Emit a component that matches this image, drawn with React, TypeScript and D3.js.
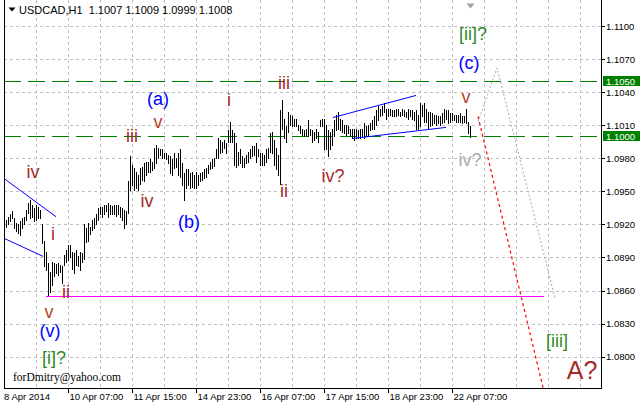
import React from 'react';
import * as d3 from 'd3';

// ---- data ----
const SYMBOL = 'USDCAD,H1';
const LAST_OHLC = ['1.1007', '1.1009', '1.0999', '1.1008'];

const HIGHS = [
  1.0924, 1.0927, 1.0929, 1.0932, 1.0926, 1.0921, 1.0920, 1.0923, 1.0926, 1.0927,
  1.0933, 1.0939, 1.0942, 1.0938, 1.0935, 1.0938, 1.0936, 1.0933, 1.0920, 1.0905,
  1.0895, 1.0885, 1.0877, 1.0886, 1.0885, 1.0884, 1.0885, 1.0883, 1.0882, 1.0892,
  1.0897, 1.0901, 1.0901, 1.0895, 1.0894, 1.0897, 1.0891, 1.0895, 1.0894, 1.0920,
  1.0917, 1.0921, 1.0918, 1.0924, 1.0926, 1.0929, 1.0935, 1.0936, 1.0936, 1.0938,
  1.0938, 1.0939, 1.0938, 1.0937, 1.0938, 1.0938, 1.0938, 1.0936, 1.0935, 1.0933,
  1.0932, 1.0959, 1.0982, 1.0974, 1.0971, 1.0968, 1.0965, 1.0971, 1.0972, 1.0976,
  1.0977, 1.0977, 1.0979, 1.0977, 1.0989, 1.0992, 1.0989, 1.0988, 1.0988, 1.0985,
  1.0985, 1.0983, 1.0982, 1.0979, 1.0985, 1.0980, 1.0985, 1.0988, 1.0976, 1.0967,
  1.0970, 1.0970, 1.0967, 1.0968, 1.0965, 1.0968, 1.0965, 1.0967, 1.0968, 1.0970,
  1.0971, 1.0974, 1.0977, 1.0979, 1.0980, 1.0988, 1.0998, 1.0997, 1.0995, 1.0997,
  1.0994, 1.1006, 1.1013, 1.1006, 1.1003, 1.0994, 1.0986, 1.0988, 1.0982, 1.0980,
  1.0983, 1.0986, 1.0988, 1.0991, 1.0991, 1.0994, 1.0988, 1.0985, 1.0985, 1.0983,
  1.0988, 1.0989, 1.1003, 1.1004, 1.0997, 1.0989, 1.0983, 1.1024, 1.1033, 1.1016,
  1.1009, 1.1022, 1.1019, 1.1018, 1.1016, 1.1016, 1.1010, 1.1009, 1.1007, 1.1006,
  1.1007, 1.1015, 1.1007, 1.1006, 1.1004, 1.1007, 1.1004, 1.1015, 1.1016, 1.1016,
  1.1010, 1.1006, 1.1004, 1.1007, 1.1015, 1.1019, 1.1022, 1.1016, 1.1015, 1.1010,
  1.1010, 1.1009, 1.1007, 1.1007, 1.1007, 1.1007, 1.1006, 1.1007, 1.1007, 1.1012,
  1.1009, 1.1010, 1.1012, 1.1015, 1.1018, 1.1024, 1.1027, 1.1025, 1.1027, 1.1030,
  1.1025, 1.1025, 1.1025, 1.1024, 1.1024, 1.1025, 1.1025, 1.1022, 1.1025, 1.1024,
  1.1022, 1.1025, 1.1024, 1.1024, 1.1022, 1.1024, 1.1019, 1.1030, 1.1028, 1.1030,
  1.1025, 1.1022, 1.1022, 1.1021, 1.1019, 1.1019, 1.1018, 1.1018, 1.1021, 1.1025,
  1.1024, 1.1024, 1.1021, 1.1021, 1.1019, 1.1019, 1.1019, 1.1021, 1.1018, 1.1018,
  1.1025, 1.1013, 1.1009,
];

const LOWS = [
  1.0918, 1.0920, 1.0923, 1.0926, 1.0917, 1.0914, 1.0912, 1.0910, 1.0917, 1.0920,
  1.0924, 1.0930, 1.0926, 1.0927, 1.0923, 1.0924, 1.0926, 1.0926, 1.0903, 1.0882,
  1.0879, 1.0856, 1.0859, 1.0865, 1.0873, 1.0876, 1.0874, 1.0877, 1.0867, 1.0883,
  1.0886, 1.0888, 1.0890, 1.0880, 1.0876, 1.0883, 1.0882, 1.0879, 1.0886, 1.0889,
  1.0904, 1.0905, 1.0911, 1.0915, 1.0917, 1.0920, 1.0924, 1.0929, 1.0927, 1.0929,
  1.0932, 1.0927, 1.0929, 1.0929, 1.0929, 1.0928, 1.0929, 1.0927, 1.0924, 1.0917,
  1.0920, 1.0930, 1.0951, 1.0956, 1.0951, 1.0953, 1.0951, 1.0957, 1.0960, 1.0959,
  1.0965, 1.0968, 1.0968, 1.0969, 1.0971, 1.0976, 1.0980, 1.0983, 1.0980, 1.0980,
  1.0979, 1.0976, 1.0967, 1.0965, 1.0971, 1.0972, 1.0965, 1.0963, 1.0956, 1.0942,
  1.0953, 1.0956, 1.0953, 1.0954, 1.0953, 1.0953, 1.0956, 1.0959, 1.0960, 1.0962,
  1.0963, 1.0967, 1.0970, 1.0971, 1.0973, 1.0980, 1.0980, 1.0985, 1.0986, 1.0989,
  1.0985, 1.0995, 1.0995, 1.0995, 1.0974, 1.0972, 1.0974, 1.0976, 1.0972, 1.0972,
  1.0976, 1.0977, 1.0980, 1.0982, 1.0983, 1.0977, 1.0982, 1.0974, 1.0974, 1.0974,
  1.0977, 1.0980, 1.0986, 1.0985, 1.0974, 1.0970, 1.0965, 1.0957, 1.1007, 1.0998,
  1.0995, 1.1004, 1.1010, 1.1009, 1.1009, 1.1009, 1.1006, 1.1003, 1.1001, 1.1000,
  1.1001, 1.1000, 1.1001, 1.0995, 1.0997, 1.0998, 1.0995, 1.1009, 1.1009, 1.0988,
  1.0988, 1.0982, 1.0988, 1.0992, 1.1000, 1.1006, 1.1007, 1.1006, 1.1004, 1.1003,
  1.1001, 1.1003, 1.1000, 1.0998, 1.0997, 1.0998, 1.0998, 1.0998, 1.1000, 1.0998,
  1.1000, 1.1001, 1.1006, 1.1007, 1.1007, 1.1010, 1.1015, 1.1018, 1.1019, 1.1022,
  1.1016, 1.1018, 1.1019, 1.1018, 1.1018, 1.1018, 1.1019, 1.1018, 1.1019, 1.1018,
  1.1017, 1.1016, 1.1018, 1.1016, 1.1015, 1.1007, 1.1007, 1.1009, 1.1018, 1.1013,
  1.1013, 1.1007, 1.1009, 1.1010, 1.1012, 1.1010, 1.1012, 1.1010, 1.1012, 1.1013,
  1.1016, 1.1012, 1.1013, 1.1015, 1.1015, 1.1013, 1.1013, 1.1013, 1.1012, 1.1013,
  1.1012, 1.1003, 1.0999,
];

const FIRST_TIME_LABEL = '8 Apr 2014';
const TIME_LABELS = ['10 Apr 07:00', '11 Apr 15:00', '14 Apr 23:00', '16 Apr 07:00', '17 Apr 15:00', '18 Apr 23:00', '22 Apr 07:00'];
const TIME_LABEL_BARS = [31, 63, 95, 127, 159, 191, 223];

const PRICE_TICKS = [1.08, 1.083, 1.086, 1.089, 1.092, 1.095, 1.098, 1.101, 1.104, 1.107, 1.11];
const LEVELS = [1.105, 1.1];
const SUPPORT_LEVEL = 1.0855;
const SUPPORT_SPAN = [20, 269];

// trend lines: [bar, price] pairs
const CHANNEL_LINES: [number, number][][] = [
  [[-0.5, 1.0961], [25, 1.0927]],
  [[-0.5, 1.0907], [18.5, 1.0891]],
  [[163.5, 1.1017], [205, 1.1037]],
  [[173.5, 1.0998], [220, 1.1008]],
];
const FORECAST_MAIN: [number, number][] = [[236, 1.1018], [268.5, 1.0772]];
const FORECAST_ALT: [number, number][] = [[236, 1.1013], [245.5, 1.1062], [274.5, 1.0853]];

type Kind = 'minor' | 'minorV' | 'inter' | 'primary' | 'alt' | 'big';
const WAVE_TEXT = ['iv', 'i', 'ii', 'v', '(v)', '[i]?', 'iii', '(a)', 'v', 'iv', '(b)', 'i', 'iii', 'ii', 'iv?', 'v', '(c)', '[ii]?', 'iv?', '[iii]', 'A?'];
const WAVE_BAR = [13.5, 23.5, 30, 21.5, 22, 24, 63, 76, 76, 70.5, 91.5, 111.5, 139, 139, 163.5, 230, 231.5, 233.5, 232, 275.5, 288];
const WAVE_PRICE = [1.0968, 1.0911, 1.0859, 1.0841, 1.0823, 1.0799, 1.1000, 1.1034, 1.1013, 1.0941, 1.0922, 1.1033, 1.1048, 1.0950, 1.0964, 1.1036, 1.1066, 1.1093, 1.0978, 1.0814, 1.0788];
const WAVE_KIND: Kind[] = ['minor', 'minor', 'minor', 'minorV', 'inter', 'primary', 'minor', 'inter', 'minorV', 'minor', 'inter', 'minor', 'minor', 'minor', 'minor', 'minorV', 'inter', 'primary', 'alt', 'primary', 'big'];

const SIGNATURE = 'forDmitry@yahoo.com';

// ---- chart ----
const W = 640;
const H = 407;
const L = 4;
const R = 601;
const B = 388;

export default function App() {
  const x = d3.scaleLinear().domain([-1, 298]).range([4, 602]);
  const y = d3.scaleLinear().domain([1.08, 1.11]).range([356.7, 26]);

  const gridX = d3.range(15, 298, 16).map((i) => Math.round(x(i)) + 0.5).filter((v) => v < R);
  const line = d3
    .line<[number, number]>()
    .x((d) => x(d[0]))
    .y((d) => y(d[1]));

  const kindStyle: Record<Kind, { fill: string; size: number }> = {
    minor: { fill: '#a52a2a', size: 18 },
    minorV: { fill: '#b4432a', size: 18 },
    inter: { fill: '#0000ff', size: 18 },
    primary: { fill: '#2f8a25', size: 18 },
    alt: { fill: '#a9a9a9', size: 18 },
    big: { fill: '#a52a2a', size: 25 },
  };

  const axisFont = 'Liberation Sans, Arial, sans-serif';

  return (
    <svg width={W} height={H} style={{ position: 'absolute', left: 0, top: 0, background: '#fff' }} fontFamily={axisFont}>
      <defs>
        <clipPath id="plot">
          <rect x={L + 1} y={0} width={R - L - 1} height={B} />
        </clipPath>
      </defs>
      <rect x={0} y={0} width={W} height={H} fill="#fff" />

      {/* grid */}
      <g stroke="#c0c0c0" strokeDasharray="3,3" shapeRendering="crispEdges">
        {PRICE_TICKS.map((p) => (
          <line key={'h' + p} x1={L} x2={R} y1={Math.round(y(p)) + 0.5} y2={Math.round(y(p)) + 0.5} />
        ))}
        {gridX.map((gx) => (
          <line key={'v' + gx} x1={gx} x2={gx} y1={0} y2={B} />
        ))}
      </g>

      <g clipPath="url(#plot)">
        {/* horizontal levels */}
        {LEVELS.map((lv) => (
          <line key={'lv' + lv} x1={L} x2={R} y1={Math.round(y(lv)) + 0.5} y2={Math.round(y(lv)) + 0.5} stroke="#008000" strokeDasharray="17,7" shapeRendering="crispEdges" />
        ))}
        <line
          x1={x(SUPPORT_SPAN[0])}
          x2={x(SUPPORT_SPAN[1])}
          y1={Math.round(y(SUPPORT_LEVEL)) + 0.5}
          y2={Math.round(y(SUPPORT_LEVEL)) + 0.5}
          stroke="#ff00ff"
          strokeWidth={1.2}
        />

        {/* bars */}
        <g stroke="#000" shapeRendering="crispEdges">
          {HIGHS.map((h, i) => (
            <line key={'b' + i} x1={Math.round(x(i)) + 0.5} x2={Math.round(x(i)) + 0.5} y1={y(h)} y2={y(LOWS[i]) + 1} />
          ))}
        </g>

        {/* channels */}
        {CHANNEL_LINES.map((c, k) => (
          <path key={'c' + k} d={line(c) || ''} stroke="#0000ff" fill="none" strokeWidth={1} />
        ))}

        {/* forecasts */}
        <path d={line(FORECAST_ALT) || ''} stroke="#a9a9a9" fill="none" strokeWidth={1} strokeDasharray="2,2" />
        <path d={line(FORECAST_MAIN) || ''} stroke="#ff0000" fill="none" strokeWidth={1.2} strokeDasharray="3,3" />

        {/* wave labels */}
        {WAVE_TEXT.map((t, k) => {
          const st = kindStyle[WAVE_KIND[k]];
          return (
            <text
              key={'w' + k}
              x={x(WAVE_BAR[k])}
              y={y(WAVE_PRICE[k])}
              textAnchor="middle"
              dominantBaseline="central"
              fontSize={st.size}
              fill={st.fill}
              fontFamily="Liberation Sans, Arial, sans-serif"
            >
              {t}
            </text>
          );
        })}

        <text x={13} y={381} fontSize={11.5} fontFamily="Liberation Serif, Times New Roman, serif" fill="#000">
          {SIGNATURE}
        </text>
      </g>

      {/* shift marker */}
      <path d="M466.5,3.5 L474.5,3.5 L470.5,8.5 Z" fill="#a0a0a0" />

      {/* header */}
      <path d="M8.5,7.5 L15.5,7.5 L12,11.5 Z" fill="#000" />
      <text x={19} y={14} fontSize={11} fill="#000" style={{ whiteSpace: 'pre' }}>
        {SYMBOL + '  ' + LAST_OHLC.join(' ')}
      </text>

      {/* frame */}
      <g stroke="#000" shapeRendering="crispEdges">
        <line x1={L + 0.5} x2={L + 0.5} y1={0} y2={B + 0.5} />
        <line x1={R + 0.5} x2={R + 0.5} y1={0} y2={B + 0.5} />
        <line x1={L} x2={R + 1} y1={B + 0.5} y2={B + 0.5} />
      </g>

      {/* price axis */}
      <g fontSize={9.5} fill="#000">
        {PRICE_TICKS.map((p) => (
          <g key={'pt' + p}>
            <line x1={R} x2={R + 4} y1={Math.round(y(p)) + 0.5} y2={Math.round(y(p)) + 0.5} stroke="#000" shapeRendering="crispEdges" />
            <text x={606} y={y(p)} dominantBaseline="central">
              {d3.format('.4f')(p)}
            </text>
          </g>
        ))}
        {LEVELS.map((lv) => (
          <g key={'lb' + lv}>
            <rect x={R + 2} y={Math.round(y(lv)) - 5} width={W - R - 2} height={10} fill="#008000" />
            <text x={606} y={y(lv)} dominantBaseline="central" fill="#fff">
              {d3.format('.4f')(lv)}
            </text>
          </g>
        ))}
      </g>

      {/* time axis */}
      <g fontSize={9.5} fill="#000">
        <text x={L} y={400}>{FIRST_TIME_LABEL}</text>
        {TIME_LABEL_BARS.map((b, k) => {
          const tx = Math.round(x(b)) + 0.5;
          return (
            <g key={'t' + b}>
              <line x1={tx} x2={tx} y1={B} y2={B + 5} stroke="#000" shapeRendering="crispEdges" />
              <text x={tx + 1} y={400}>{TIME_LABELS[k]}</text>
            </g>
          );
        })}
      </g>
    </svg>
  );
}
